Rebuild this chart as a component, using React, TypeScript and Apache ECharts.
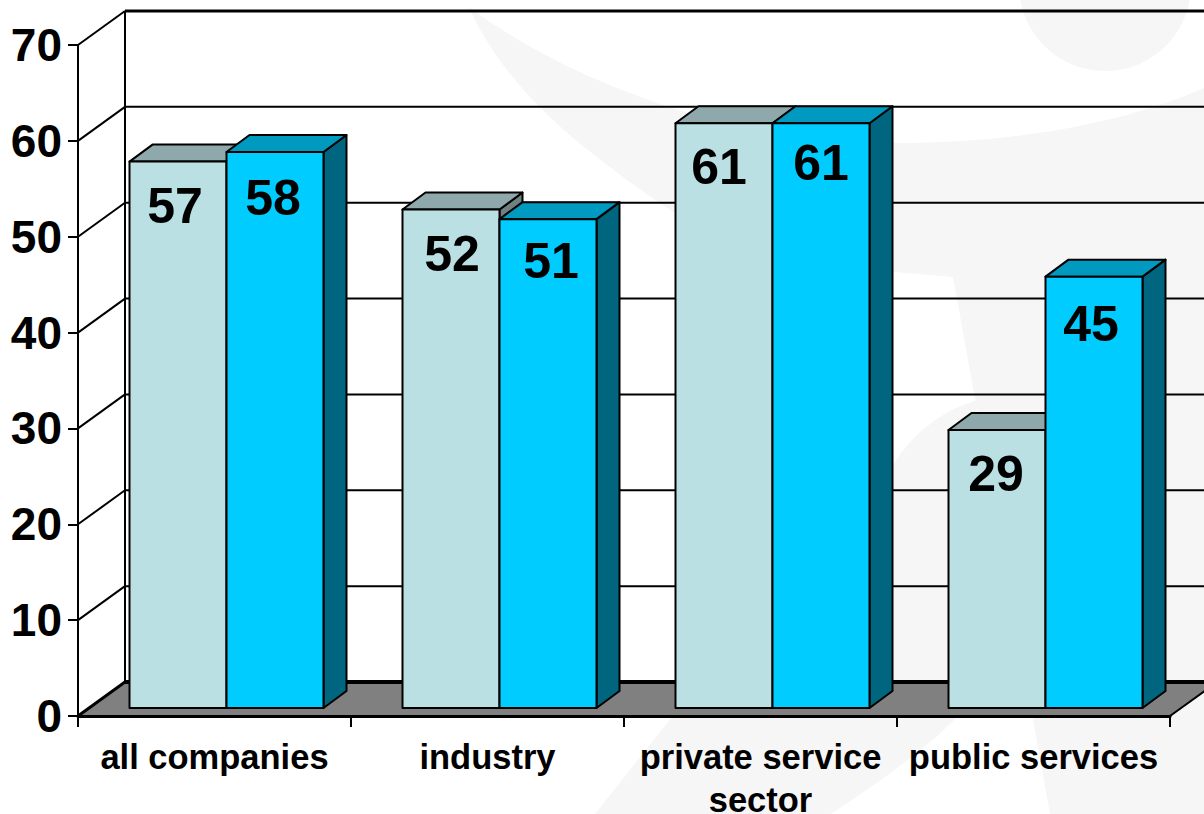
import React, { useEffect, useRef } from "react";
import * as echarts from "echarts";

const categories = ["all companies", "industry", "private service\nsector", "public services"];
const seriesLight = [57, 52, 61, 29];
const seriesBlue = [58, 51, 61, 45];
const yTicks = [0, 10, 20, 30, 40, 50, 60, 70];

const FONT = '"Liberation Sans", Arial, sans-serif';
const WALL_DX = 47;
const WALL_DY = 34;
const BAR_DX = 12;
const BAR_DY = 8;
const BAR_W = 97;
const DEPTH_X = 23;
const DEPTH_Y = 17;
const WATERMARK = "#f6f6f6";

echarts.graphic.registerShape(
  "wmSwoosh",
  echarts.graphic.extendPath(
    "M469,7 C560,75 720,143 894,143 C1010,143 1120,125 1204,88 L1204,814 L1050,814 L953,277 L893,272 C800,262 720,245 655,200 C600,160 510,100 469,7 Z",
    {}
  )
);
echarts.graphic.registerShape(
  "wmCrescent",
  echarts.graphic.extendPath(
    "M977,400 C930,415 900,445 880,490 C830,570 740,640 671,718 L595,814 L831,814 C890,775 930,745 956,718 C965,640 972,500 977,400 Z",
    {}
  )
);

function barRender(
  colors: { front: string; top: string; side: string },
  which: number,
  nudgeX: number[],
  nudgeY: number[]
) {
  return (params: any, api: any) => {
    const cat = api.value(0);
    const val = api.value(1);
    const [cx, yTop] = api.coord([cat, val]);
    const [, yBase] = api.coord([cat, 0]);
    const x0 = cx + BAR_DX + (which === 0 ? -BAR_W : 0);
    const x1 = x0 + BAR_W;
    const yT = yTop - BAR_DY;
    const yB = yBase - BAR_DY;
    const stroke = { stroke: "#000", lineWidth: 2, lineJoin: "round" };
    return {
      type: "group",
      children: [
        {
          type: "polygon",
          shape: { points: [[x1, yT], [x1 + DEPTH_X, yT - DEPTH_Y], [x1 + DEPTH_X, yB - DEPTH_Y], [x1, yB]] },
          style: { fill: colors.side, ...stroke },
        },
        {
          type: "polygon",
          shape: { points: [[x0, yT], [x0 + DEPTH_X, yT - DEPTH_Y], [x1 + DEPTH_X, yT - DEPTH_Y], [x1, yT]] },
          style: { fill: colors.top, ...stroke },
        },
        {
          type: "rect",
          shape: { x: x0, y: yT, width: BAR_W, height: yB - yT },
          style: { fill: colors.front, ...stroke },
        },
        {
          type: "text",
          x: (x0 + x1) / 2 + nudgeX[params.dataIndex],
          y: yT + nudgeY[params.dataIndex],
          style: {
            text: String(val),
            fill: "#000",
            font: `bold 50px ${FONT}`,
            align: "center",
            verticalAlign: "middle",
          },
        },
      ],
    };
  };
}

function frameRender(params: any, api: any) {
  const tick = api.value(1);
  const grid = params.coordSys;
  const xL = grid.x;
  const xR = grid.x + grid.width;
  const [, y] = api.coord([0, tick]);
  const children: any[] = [];
  const line = { stroke: "#000", lineWidth: 2 };
  if (tick === 0) {
    children.push({
      type: "polygon",
      shape: { points: [[xL, y], [xL + WALL_DX, y - WALL_DY], [xR + WALL_DX, y - WALL_DY], [xR, y]] },
      style: { fill: "#808080" },
    });
    children.push({
      type: "line",
      shape: { x1: xL + WALL_DX, y1: y - WALL_DY, x2: xR + WALL_DX, y2: y - WALL_DY },
      style: { stroke: "#000", lineWidth: 4 },
    });
    children.push({
      type: "line",
      shape: { x1: xR, y1: y, x2: xR + WALL_DX, y2: y - WALL_DY },
      style: line,
    });
    const [, yMax] = api.coord([0, yTicks[yTicks.length - 1]]);
    children.push({
      type: "line",
      shape: { x1: xL + WALL_DX, y1: yMax - WALL_DY, x2: xL + WALL_DX, y2: y - WALL_DY },
      style: line,
    });
  } else {
    children.push({
      type: "line",
      shape: { x1: xL + WALL_DX, y1: y - WALL_DY, x2: xR + WALL_DX, y2: y - WALL_DY },
      style: { stroke: "#000", lineWidth: tick === 70 ? 3 : 2 },
    });
  }
  children.push({
    type: "line",
    shape: { x1: xL, y1: y, x2: xL + WALL_DX, y2: y - WALL_DY },
    style: { stroke: "#000", lineWidth: tick === 0 ? 3 : 2 },
  });
  return { type: "group", children };
}

export default function App() {
  const ref = useRef<HTMLDivElement>(null);
  useEffect(() => {
    const chart = echarts.init(ref.current!, null, { renderer: "svg" });
    chart.setOption({
      animation: false,
      backgroundColor: "#ffffff",
      grid: { left: 78, right: 34, top: 45, bottom: 98, containLabel: false, outerBoundsMode: "none" },
      graphic: [
        { type: "circle", z: -10, shape: { cx: 1105, cy: -15, r: 86 }, style: { fill: WATERMARK } },
        { type: "wmSwoosh", z: -10, x: 0, y: 0, scaleX: 1, scaleY: 1, style: { fill: WATERMARK } },
        { type: "wmCrescent", z: -10, x: 0, y: 0, scaleX: 1, scaleY: 1, style: { fill: WATERMARK } },
      ],
      xAxis: {
        type: "category",
        data: categories,
        boundaryGap: true,
        axisLine: { show: true, lineStyle: { color: "#000", width: 3 } },
        axisTick: { show: true, length: 11, lineStyle: { color: "#000", width: 2 } },
        axisLabel: {
          interval: 0,
          color: "#000",
          fontFamily: FONT,
          fontWeight: "bold",
          fontSize: 34.5,
          lineHeight: 43,
          margin: 19,
        },
      },
      yAxis: {
        type: "value",
        min: 0,
        max: 70,
        interval: 10,
        splitLine: { show: false },
        axisLine: { show: true, lineStyle: { color: "#000", width: 2 } },
        axisTick: { show: true, length: 10, lineStyle: { color: "#000", width: 2 } },
        axisLabel: {
          color: "#000",
          fontFamily: FONT,
          fontWeight: "bold",
          fontSize: 46,
          margin: 16,
        },
      },
      series: [
        {
          type: "custom",
          name: "frame",
          z: -1,
          coordinateSystem: "cartesian2d",
          data: yTicks.map((t) => [0, t]),
          renderItem: frameRender,
          silent: true,
        },
        {
          type: "custom",
          name: "light",
          z: 2,
          coordinateSystem: "cartesian2d",
          data: seriesLight.map((v, i) => [i, v]),
          renderItem: barRender({ front: "#BAE0E3", top: "#8FA8AB", side: "#6F8082" }, 0, [-3, 1, -5, -1], [44, 44, 44, 44]),
        },
        {
          type: "custom",
          name: "blue",
          z: 3,
          coordinateSystem: "cartesian2d",
          data: seriesBlue.map((v, i) => [i, v]),
          renderItem: barRender({ front: "#00CCFF", top: "#0099BF", side: "#006680" }, 1, [-2, 3, 0, -3], [46, 42, 40, 47]),
        },
      ],
    });
    return () => chart.dispose();
  }, []);
  return <div ref={ref} style={{ position: "fixed", left: 0, top: 0, width: 1204, height: 814 }} />;
}
